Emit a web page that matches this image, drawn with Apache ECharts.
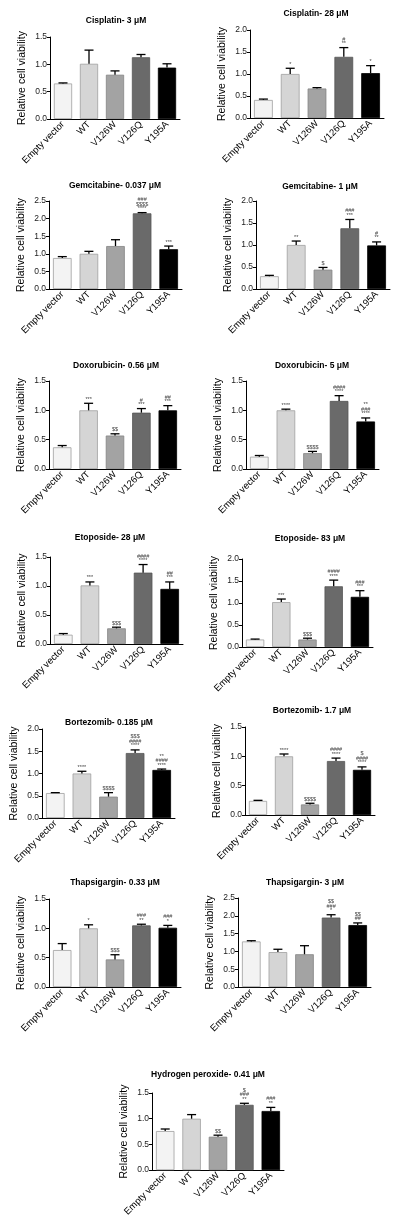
<!DOCTYPE html>
<html>
<head>
<meta charset="utf-8">
<script src="https://cdn.jsdelivr.net/npm/echarts@6/dist/echarts.min.js"></script>
<style>
html,body{margin:0;padding:0;background:#fff;}
#chart{width:400px;height:1219px;}
</style>
</head>
<body>
<div id="chart"></div>
<script>
const categories = ['Empty vector', 'WT', 'V126W', 'V126Q', 'Y195A'];
const titles = [
  'Cisplatin- 3 \u03bcM', 'Cisplatin- 28 \u03bcM',
  'Gemcitabine- 0.037 \u03bcM', 'Gemcitabine- 1 \u03bcM',
  'Doxorubicin- 0.56 \u03bcM', 'Doxorubicin- 5 \u03bcM',
  'Etoposide- 28 \u03bcM', 'Etoposide- 83 \u03bcM',
  'Bortezomib- 0.185 \u03bcM', 'Bortezomib- 1.7 \u03bcM',
  'Thapsigargin- 0.33 \u03bcM', 'Thapsigargin- 3 \u03bcM',
  'Hydrogen peroxide- 0.41 \u03bcM'
];
const yAxisMax = [1.5, 2.0, 2.5, 2.0, 1.5, 1.5, 1.5, 2.0, 2.0, 1.5, 1.5, 2.5, 1.5];
const yTickStep = 0.5;
const yAxisTitle = 'Relative cell viability';
const means = [
  [0.65, 1.01, 0.81, 1.13, 0.94],
  [0.41, 1.00, 0.67, 1.39, 1.02],
  [0.88, 1.00, 1.22, 2.15, 1.13],
  [0.29, 1.00, 0.44, 1.38, 0.99],
  [0.37, 1.00, 0.57, 0.96, 1.00],
  [0.21, 1.00, 0.27, 1.16, 0.81],
  [0.16, 1.01, 0.27, 1.23, 0.95],
  [0.17, 1.02, 0.17, 1.38, 1.14],
  [0.56, 1.00, 0.48, 1.46, 1.08],
  [0.24, 1.00, 0.18, 0.92, 0.77],
  [0.63, 1.00, 0.47, 1.05, 1.01],
  [1.28, 0.98, 0.92, 1.95, 1.74],
  [0.76, 1.00, 0.65, 1.27, 1.15]
];
const sems = [
  [0.01, 0.25, 0.07, 0.05, 0.07],
  [0.02, 0.13, 0.02, 0.21, 0.17],
  [0.04, 0.07, 0.18, 0.02, 0.09],
  [0.02, 0.09, 0.05, 0.20, 0.08],
  [0.03, 0.12, 0.03, 0.07, 0.08],
  [0.02, 0.02, 0.03, 0.09, 0.06],
  [0.02, 0.06, 0.02, 0.14, 0.12],
  [0.01, 0.07, 0.03, 0.14, 0.14],
  [0.01, 0.05, 0.09, 0.07, 0.02],
  [0.01, 0.04, 0.02, 0.05, 0.05],
  [0.11, 0.06, 0.08, 0.02, 0.04],
  [0.02, 0.08, 0.24, 0.08, 0.06],
  [0.04, 0.08, 0.03, 0.03, 0.07]
];
// significance marks, listed from bottom (closest to error bar) to top
const marks = [
  [[], [], [], [], []],
  [[], ['*'], [], ['**', '#'], ['*']],
  [[], [], [], ['****', '$$$$', '###'], ['***']],
  [[], ['**'], ['$'], ['***', '###'], ['**', '#']],
  [[], ['***'], ['$$'], ['***', '#'], ['***', '##']],
  [[], ['****'], ['$$$$'], ['****', '####'], ['****', '###', '**']],
  [[], ['***'], ['$$$'], ['****', '####'], ['***', '##']],
  [[], ['***'], ['$$$'], ['****', '####'], ['***', '###']],
  [[], ['****'], ['$$$$'], ['****', '####', '$$$'], ['****', '####', '**']],
  [[], ['****'], ['$$$$'], ['****', '####'], ['****', '####', '$']],
  [[], ['*'], ['$$$'], ['**', '###'], ['*', '###']],
  [[], [], [], ['*', '###', '$$'], ['##', '$$']],
  [[], [], ['$$'], ['**', '###', '$'], ['**', '###']]
];

const fills = ['#f3f3f3', '#d5d5d5', '#a3a3a3', '#6a6a6a', '#000000'];
const borders = ['#a0a0a0', '#a0a0a0', '#858585', '#555555', '#000000'];
const FONT = '"Liberation Sans", Arial, sans-serif';

const grids = [
  {left: 50, top: 37, width: 130, height: 82},
  {left: 250, top: 30, width: 134, height: 88},
  {left: 49, top: 201, width: 133, height: 88},
  {left: 256, top: 201, width: 134, height: 88},
  {left: 49, top: 381, width: 132, height: 88},
  {left: 246, top: 381, width: 133, height: 88},
  {left: 50, top: 557, width: 133, height: 87},
  {left: 242, top: 559, width: 131, height: 88},
  {left: 42, top: 729, width: 133, height: 89},
  {left: 245, top: 727, width: 130, height: 88},
  {left: 49, top: 899, width: 132, height: 88},
  {left: 238, top: 898, width: 133, height: 89},
  {left: 152, top: 1093, width: 132, height: 88}
];
const titlePos = [
  [116, 21], [316, 14], [115, 186], [320, 187], [116, 366], [312, 366],
  [110, 538], [310, 539], [109, 723], [312, 711], [115, 883], [305, 883], [208, 1075]
];

const xAxes = [], yAxes = [], series = [], graphics = [];
grids.forEach((g, k) => {
  xAxes.push({
    type: 'category', gridIndex: k, data: categories,
    axisLine: {lineStyle: {color: '#000', width: 1}},
    axisTick: {show: false},
    axisLabel: {rotate: 45, fontSize: 9.5, color: '#000', fontFamily: FONT, margin: 4, interval: 0}
  });
  yAxes.push({
    type: 'value', gridIndex: k, min: 0, max: yAxisMax[k], interval: yTickStep,
    name: yAxisTitle, nameLocation: 'middle', nameGap: 22,
    nameTextStyle: {fontSize: 10.5, color: '#000', fontFamily: FONT},
    axisLine: {show: true, lineStyle: {color: '#000', width: 1}},
    axisTick: {show: true, length: 3, lineStyle: {color: '#000'}},
    splitLine: {show: false},
    axisLabel: {fontSize: 8.5, color: '#222', fontFamily: FONT, margin: 3,
      formatter: v => v.toFixed(1)}
  });
  series.push({
    type: 'bar', xAxisIndex: k, yAxisIndex: k, barCategoryGap: '30%',
    data: means[k].map((v, i) => ({value: v, itemStyle: {color: fills[i], borderColor: borders[i], borderWidth: 0.8}})),
    animation: false
  });
  series.push({
    type: 'custom', xAxisIndex: k, yAxisIndex: k,
    encode: {x: 0, y: [1, 2]},
    data: means[k].map((v, i) => [i, v, +(v + sems[k][i]).toFixed(3)]),
    animation: false,
    z: 5,
    renderItem: (params, api) => {
      const i = params.dataIndex;
      const p0 = api.coord([api.value(0), api.value(1)]);
      const p1 = api.coord([api.value(0), api.value(2)]);
      const children = [
        {type: 'line', shape: {x1: p0[0], y1: p0[1], x2: p1[0], y2: p1[1]}, style: {stroke: '#000', lineWidth: 1.3}},
        {type: 'line', shape: {x1: p1[0] - 4.5, y1: p1[1], x2: p1[0] + 4.5, y2: p1[1]}, style: {stroke: '#000', lineWidth: 1.3}}
      ];
      marks[k][i].forEach((t, j) => {
        children.push({type: 'text', style: {
          x: p1[0], y: p1[1] - 1 - j * 4.5, text: t, fill: '#444',
          font: '5.5px ' + FONT, textAlign: 'center', textVerticalAlign: 'bottom'
        }});
      });
      return {type: 'group', children};
    }
  });
  graphics.push({
    type: 'text', x: titlePos[k][0], y: titlePos[k][1],
    style: {text: titles[k], font: 'bold 8.5px ' + FONT, fill: '#000', textAlign: 'center', textVerticalAlign: 'middle'}
  });
});

const chart = echarts.init(document.getElementById('chart'), null, {renderer: 'canvas'});
chart.setOption({
  animation: false,
  backgroundColor: '#fff',
  grid: grids,
  xAxis: xAxes,
  yAxis: yAxes,
  series: series,
  graphic: graphics
});
</script>
</body>
</html>
